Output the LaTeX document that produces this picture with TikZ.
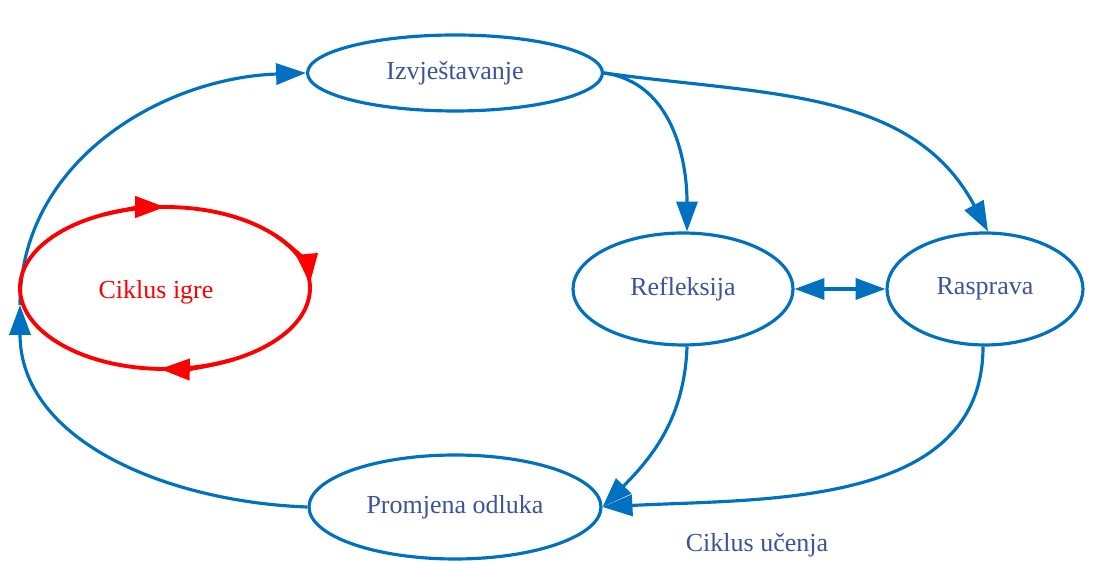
\documentclass[tikz,border=0pt]{standalone}
\usepackage{fontspec}
\setmainfont{Liberation Serif}
\usetikzlibrary{arrows.meta,shapes.geometric}
\definecolor{lineblue}{RGB}{0,112,192}
\definecolor{textblue}{RGB}{59,83,154}
\begin{document}
\begin{tikzpicture}[x=0.02cm, y=0.02cm,
  font=\fontsize{14.8}{18}\selectfont,
  stage/.style={draw=lineblue, line width=1.8pt, ellipse, text=textblue, inner sep=0pt},
  link/.style={draw=lineblue, line width=1.8pt, -{Triangle[length=17pt,width=12pt]}},
  game/.style={draw=red, line width=2.2pt, -{Triangle[length=17pt,width=12pt]}}]
\useasboundingbox (0,0) rectangle (1105,563);
% stages
\node[stage, minimum width=5.9cm, minimum height=1.52cm] (izv) at (455,490) {Izvještavanje};
\node[stage, minimum width=4.4cm, minimum height=2.24cm] (refl) at (683,274) {Refleksija};
\node[stage, minimum width=3.92cm, minimum height=2.24cm] (ras) at (985,274) {Rasprava};
\node[stage, minimum width=5.84cm, minimum height=2.08cm] (prom) at (455,56) {Promjena odluka};
\node[text=textblue] (ucenja) at (757,18) {Ciklus učenja};
% left
\coordinate (turn) at (20,258);
\draw[link] (prom.west) to[out=178, in=-90] (turn);
\draw[link] (turn) to[out=90, in=182] (izv.west);
\node[text=red] (igre) at (156,271) {Ciklus igre};
\draw[game, -] (165,275) ellipse[x radius=145, y radius=81];
\draw[game] (165,275) ++(115:145 and 81) arc[start angle=115, end angle=90, x radius=145, y radius=81];
\draw[game] (165,275) ++(40:145 and 81) arc[start angle=40, end angle=3, x radius=145, y radius=81];
\draw[game] (165,275) ++(-62:145 and 81) arc[start angle=-62, end angle=-92, x radius=145, y radius=81];
% right
\draw[link] (izv.east) to[out=-8, in=90] (refl.86);
\draw[link] (izv.east) to[out=-8, in=118] (ras.87);
\draw[link, {Triangle[length=17pt,width=12pt]}-{Triangle[length=17pt,width=12pt]}] (refl) -- (ras);
\draw[link] (refl.-86) to[out=-92, in=45] (prom.east);
\draw[link] (ras.-92) to[out=-90, in=3] (prom.east);
\end{tikzpicture}
\end{document}
